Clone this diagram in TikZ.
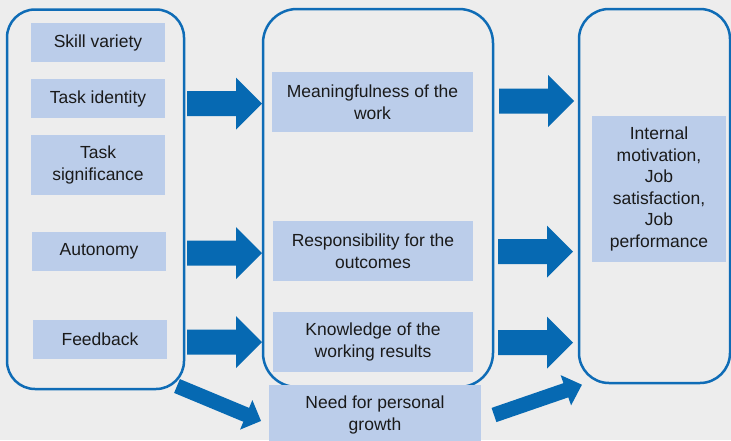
\documentclass[tikz,border=0pt]{standalone}
\usepackage{fontspec}
\setmainfont{Liberation Sans}
\definecolor{bg}{HTML}{EDEDED}
\definecolor{frame}{HTML}{0F6CB6}
\definecolor{boxfill}{HTML}{BBCDEA}
\definecolor{arrowblue}{HTML}{0669B2}
\definecolor{txt}{HTML}{1A1A1A}
\tikzset{pics/blockarrow/.style n args={4}{code={%
  \fill[arrowblue] (0,-#2/2) -- (#1-#4,-#2/2) -- (#1-#4,-#3/2) -- (#1,0)
    -- (#1-#4,#3/2) -- (#1-#4,#2/2) -- (0,#2/2) -- cycle;}}}
\begin{document}
\begin{tikzpicture}[x=1pt,y=-1pt,
  font=\fontsize{17.5}{21.5}\selectfont,
  container/.style={draw=frame, line width=2.5pt, rounded corners=#1, inner sep=0pt},
  item/.style={fill=boxfill, text=txt, align=center, inner sep=0pt}]
\useasboundingbox (0,0) rectangle (731,440);
\clip (0,0) rectangle (731,440);
\fill[bg] (0,0) rectangle (731,440);

% containers
\node[container=28, minimum width=177pt, minimum height=379.5pt] (left) at (95.5,199.25) {};
\node[container=34, minimum width=230pt, minimum height=378pt] (mid) at (378,198) {};
\node[container=30, minimum width=151pt, minimum height=374pt] (right) at (654.5,196) {};

% block arrows
\pic (a1) at (187,103.5) {blockarrow={75}{25}{52}{26}};
\pic (a2) at (187,253) {blockarrow={75}{25}{52}{26}};
\pic (a3) at (187,342) {blockarrow={75}{25}{52}{26}};
\pic (b1) at (499,101) {blockarrow={75}{25}{52}{26}};
\pic (b2) at (498,251.5) {blockarrow={75}{25}{52}{26}};
\pic (b3) at (498,342.5) {blockarrow={75}{25}{52}{26}};
\pic[rotate=-22.6] (d1) at (177,386) {blockarrow={91}{15}{32}{16}};
\pic[rotate=19] (d2) at (494,415) {blockarrow={93}{15}{32}{17}};

% left items
\node[item, minimum width=134pt, minimum height=39pt] (skill) at (98,42.5) {Skill variety};
\node[item, minimum width=134pt, minimum height=39pt] (ident) at (98,98.5) {Task identity};
\node[item, minimum width=134pt, minimum height=60pt] (signif) at (98,165) {Task\\significance};
\node[item, minimum width=134pt, minimum height=39pt] (auto) at (99,251.5) {Autonomy};
\node[item, minimum width=134pt, minimum height=39pt] (feed) at (100,339.5) {Feedback};

% middle items
\node[item, minimum width=201pt, minimum height=60pt] (mean) at (372.5,102) {Meaningfulness of the\\work};
\node[item, minimum width=200pt, minimum height=60pt] (resp) at (373,251) {Responsibility for the\\outcomes};
\node[item, minimum width=200pt, minimum height=60pt] (know) at (373,342) {Knowledge of the\\working results};
\node[item, minimum width=212pt, minimum height=60pt] (need) at (375,415) {Need for personal\\growth};

% right item
\node[item, minimum width=134pt, minimum height=146pt] (out) at (659,189) {Internal\\motivation,\\Job\\satisfaction,\\Job\\performance};
\end{tikzpicture}
\end{document}
